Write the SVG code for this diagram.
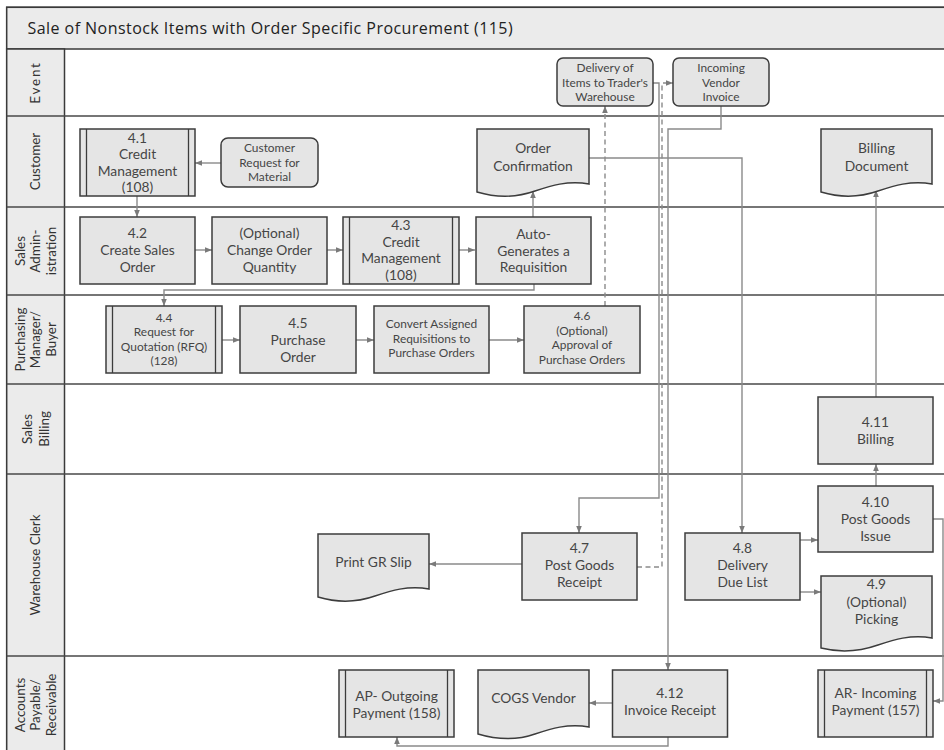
<svg xmlns="http://www.w3.org/2000/svg" width="944" height="750" viewBox="0 0 944 750">
  <style>
    .frame { fill: #ffffff; stroke: #3a3a3a; stroke-width: 1.5; }
    .band { fill: #ebebeb; stroke: #3a3a3a; stroke-width: 1.5; }
    .div { stroke: #4a4a4a; stroke-width: 1.5; fill: none; }
    .title { font-family: "Open Sans", "Noto Sans", sans-serif; font-size: 16px; letter-spacing: 0.45px; fill: #222; }
    .lane { font-family: Lato, "Open Sans", sans-serif; font-size: 13.4px; fill: #333; text-anchor: middle; }
    .box { fill: #e5e5e5; stroke: #3c3c3c; stroke-width: 1.5; }
    .bar { stroke: #3c3c3c; stroke-width: 1.3; fill: none; }
    .t { font-family: Lato, "Open Sans", sans-serif; font-size: 13.8px; fill: #454545; text-anchor: middle; }
    .s { font-family: Lato, "Open Sans", sans-serif; font-size: 11.9px; fill: #454545; text-anchor: middle; }
    .c { fill: none; stroke: #8a8a8a; stroke-width: 1.4; marker-end: url(#ah); }
    .d { fill: none; stroke: #8a8a8a; stroke-width: 1.4; stroke-dasharray: 5 3.5; marker-end: url(#ah); }
  </style>
  <defs>
    <marker id="ah" viewBox="0 0 10 10" refX="10" refY="5" markerWidth="7" markerHeight="7" markerUnits="userSpaceOnUse" orient="auto">
      <path d="M0,1 L10,5 L0,9 Z" fill="#7a7a7a"/>
    </marker>
  </defs>

  <rect width="944" height="750" fill="#ffffff"/>

  <!-- pool frame, title bar and lane header column -->
  <g id="pool">
    <rect class="frame" x="6.7" y="7.3" width="960" height="760"/>
    <rect class="band" x="6.7" y="7.3" width="960" height="41.7"/>
    <rect class="band" x="6.7" y="49" width="57.8" height="720"/>
    <text class="title" x="27.5" y="34">Sale of Nonstock Items with Order Specific Procurement (115)</text>
    <path class="div" d="M6.7,116 H944 M6.7,207 H944 M6.7,295 H944 M6.7,384 H944 M6.7,474 H944 M6.7,656 H944"/>
  </g>

  <!-- lane labels -->
  <g id="lanes">
    <text class="lane" transform="translate(35.6,82.5) rotate(-90)" y="4.7" letter-spacing="1.8" font-size="14.5">Event</text>
    <text class="lane" transform="translate(35.6,161.5) rotate(-90)" y="4.7" font-size="14.5">Customer</text>
    <text class="lane" transform="translate(35.6,251) rotate(-90)"><tspan x="0" y="-11">Sales</tspan><tspan x="0" y="4.7">Admin-</tspan><tspan x="0" y="20.4">istration</tspan></text>
    <text class="lane" transform="translate(35.6,339.5) rotate(-90)"><tspan x="0" y="-11">Purchasing</tspan><tspan x="0" y="4.7">Manager/</tspan><tspan x="0" y="20.4">Buyer</tspan></text>
    <text class="lane" transform="translate(35.6,429) rotate(-90)" font-size="14"><tspan x="0" y="-3.2">Sales</tspan><tspan x="0" y="13">Billing</tspan></text>
    <text class="lane" transform="translate(35.6,565) rotate(-90)" y="4.7" font-size="14.5">Warehouse Clerk</text>
    <text class="lane" transform="translate(35.6,705) rotate(-90)"><tspan x="0" y="-11">Accounts</tspan><tspan x="0" y="4.7">Payable/</tspan><tspan x="0" y="20.4">Receivable</tspan></text>
  </g>

  <!-- connectors -->
  <g id="connectors">
    <path class="c" d="M221,163 H195"/>
    <path class="c" d="M137,196 V217"/>
    <path class="c" d="M195,250 H212"/>
    <path class="c" d="M327,250 H343"/>
    <path class="c" d="M459,250 H475"/>
    <path class="c" d="M533,217 V191"/>
    <path class="c" d="M534,284 V290 H164 V306"/>
    <path class="c" d="M222,340 H240"/>
    <path class="c" d="M356,340 H374"/>
    <path class="c" d="M489,340 H524"/>
    <path class="d" d="M605,306 V106"/>
    <path class="c" d="M653,83 H659 V498 H579 V533"/>
    <path class="d" d="M637,567 H662 V83 H673"/>
    <path class="c" d="M721,106 V129 H668 V670"/>
    <path class="c" d="M589,158 H742 V533"/>
    <path class="c" d="M800,540 H818"/>
    <path class="c" d="M800,592 H821"/>
    <path class="c" d="M876,486 V464"/>
    <path class="c" d="M876,397 V190"/>
    <path class="c" d="M933,519 H943 V701 H933"/>
    <path class="c" d="M522,564 H429"/>
    <path class="c" d="M612.5,703 H589"/>
    <path class="c" d="M668,737 V746 H397 V737"/>
  </g>

  <!-- Event lane -->
  <g id="ev-delivery">
    <rect class="box" x="557" y="58" width="96" height="48" rx="6"/>
    <text class="s"><tspan x="605" y="72.3">Delivery of</tspan><tspan x="605" y="86.7">Items to Trader's</tspan><tspan x="605" y="101">Warehouse</tspan></text>
  </g>
  <g id="ev-invoice">
    <rect class="box" x="673" y="58" width="96" height="48" rx="6"/>
    <text class="s"><tspan x="721" y="72.3">Incoming</tspan><tspan x="721" y="86.7">Vendor</tspan><tspan x="721" y="101">Invoice</tspan></text>
  </g>

  <!-- Customer lane -->
  <g id="n4-1">
    <rect class="box" x="80" y="129" width="115" height="67"/>
    <path class="bar" d="M86.5,129 V196 M188.5,129 V196"/>
    <text class="t"><tspan x="137.5" y="142.5">4.1</tspan><tspan x="137.5" y="159">Credit</tspan><tspan x="137.5" y="175.5">Management</tspan><tspan x="137.5" y="192">(108)</tspan></text>
  </g>
  <g id="customer-request">
    <rect class="box" x="221" y="138" width="97" height="49" rx="7"/>
    <text class="s"><tspan x="269.5" y="152.3">Customer</tspan><tspan x="269.5" y="166.7">Request for</tspan><tspan x="269.5" y="181.1">Material</tspan></text>
  </g>
  <g id="order-confirmation">
    <path class="box" d="M477,129 H589 V184 C568,180 550,186 535,191 C518,197 497,198 477,192 Z"/>
    <text class="t"><tspan x="533" y="153.3">Order</tspan><tspan x="533" y="170.7">Confirmation</tspan></text>
  </g>
  <g id="billing-document">
    <path class="box" d="M821,129 H932 V184 C911,180 893,186 878,191 C861,197 841,198 821,192 Z"/>
    <text class="t"><tspan x="876.5" y="153.3">Billing</tspan><tspan x="876.5" y="170.7">Document</tspan></text>
  </g>

  <!-- Sales Administration lane -->
  <g id="n4-2">
    <rect class="box" x="80" y="217" width="115" height="67"/>
    <text class="t"><tspan x="137.5" y="238.3">4.2</tspan><tspan x="137.5" y="255">Create Sales</tspan><tspan x="137.5" y="271.7">Order</tspan></text>
  </g>
  <g id="change-qty">
    <rect class="box" x="212" y="217" width="115" height="67"/>
    <text class="t"><tspan x="269.5" y="238.3">(Optional)</tspan><tspan x="269.5" y="255">Change Order</tspan><tspan x="269.5" y="271.7">Quantity</tspan></text>
  </g>
  <g id="n4-3">
    <rect class="box" x="343" y="217" width="116" height="67"/>
    <path class="bar" d="M349.5,217 V284 M452.5,217 V284"/>
    <text class="t"><tspan x="401" y="230">4.3</tspan><tspan x="401" y="246.7">Credit</tspan><tspan x="401" y="263.4">Management</tspan><tspan x="401" y="280.1">(108)</tspan></text>
  </g>
  <g id="auto-requisition">
    <rect class="box" x="476" y="217" width="115" height="67"/>
    <text class="t"><tspan x="533.5" y="239">Auto-</tspan><tspan x="533.5" y="255.7">Generates a</tspan><tspan x="533.5" y="272.4">Requisition</tspan></text>
  </g>

  <!-- Purchasing lane -->
  <g id="n4-4">
    <rect class="box" x="106" y="306" width="116" height="67"/>
    <path class="bar" d="M112.5,306 V373 M215.5,306 V373"/>
    <text class="s"><tspan x="164" y="321.5">4.4</tspan><tspan x="164" y="336">Request for</tspan><tspan x="164" y="350.5">Quotation (RFQ)</tspan><tspan x="164" y="365">(128)</tspan></text>
  </g>
  <g id="n4-5">
    <rect class="box" x="240" y="306" width="116" height="67"/>
    <text class="t"><tspan x="298" y="328">4.5</tspan><tspan x="298" y="344.8">Purchase</tspan><tspan x="298" y="361.6">Order</tspan></text>
  </g>
  <g id="convert">
    <rect class="box" x="374" y="306" width="115" height="67"/>
    <text class="s"><tspan x="431.5" y="328.3">Convert Assigned</tspan><tspan x="431.5" y="342.8">Requisitions to</tspan><tspan x="431.5" y="357.3">Purchase Orders</tspan></text>
  </g>
  <g id="n4-6">
    <rect class="box" x="524" y="306" width="116" height="67"/>
    <text class="s"><tspan x="582" y="320">4.6</tspan><tspan x="582" y="334.5">(Optional)</tspan><tspan x="582" y="349">Approval of</tspan><tspan x="582" y="363.5">Purchase Orders</tspan></text>
  </g>

  <!-- Sales Billing lane -->
  <g id="n4-11">
    <rect class="box" x="818" y="397" width="115" height="67"/>
    <text class="t"><tspan x="875.5" y="426.7">4.11</tspan><tspan x="875.5" y="443.5">Billing</tspan></text>
  </g>

  <!-- Warehouse Clerk lane -->
  <g id="n4-10">
    <rect class="box" x="818" y="486" width="115" height="66"/>
    <text class="t"><tspan x="875.5" y="506.7">4.10</tspan><tspan x="875.5" y="523.5">Post Goods</tspan><tspan x="875.5" y="540.5">Issue</tspan></text>
  </g>
  <g id="print-gr">
    <path class="box" d="M318,534 H429 V589 C408,585 390,591 375,596 C358,602 338,603 318,597 Z"/>
    <text class="t" x="373.5" y="566.7">Print GR Slip</text>
  </g>
  <g id="n4-7">
    <rect class="box" x="522" y="533" width="115" height="67"/>
    <text class="t"><tspan x="579.5" y="553.3">4.7</tspan><tspan x="579.5" y="570.2">Post Goods</tspan><tspan x="579.5" y="587.3">Receipt</tspan></text>
  </g>
  <g id="n4-8">
    <rect class="box" x="685" y="533" width="115" height="67"/>
    <text class="t"><tspan x="742.5" y="553.3">4.8</tspan><tspan x="742.5" y="570.2">Delivery</tspan><tspan x="742.5" y="587.3">Due List</tspan></text>
  </g>
  <g id="n4-9">
    <path class="box" d="M821,576 H932 V638 C911,634 893,640 878,645 C861,651 841,653 821,648 Z"/>
    <text class="t"><tspan x="876.5" y="589">4.9</tspan><tspan x="876.5" y="606.5">(Optional)</tspan><tspan x="876.5" y="624">Picking</tspan></text>
  </g>

  <!-- Accounts Payable / Receivable lane -->
  <g id="ap-outgoing">
    <rect class="box" x="339" y="670" width="115" height="67"/>
    <path class="bar" d="M345.5,670 V737 M447.5,670 V737"/>
    <text class="t"><tspan x="396.5" y="701">AP- Outgoing</tspan><tspan x="396.5" y="718">Payment (158)</tspan></text>
  </g>
  <g id="cogs-vendor">
    <path class="box" d="M478,670 H589 V727 C568,723 550,729 535,734 C518,740 498,740 478,734 Z"/>
    <text class="t" x="533.5" y="703.3">COGS Vendor</text>
  </g>
  <g id="n4-12">
    <rect class="box" x="612.5" y="670" width="115" height="67"/>
    <text class="t"><tspan x="670" y="698.3">4.12</tspan><tspan x="670" y="715.2">Invoice Receipt</tspan></text>
  </g>
  <g id="ar-incoming">
    <rect class="box" x="818" y="670" width="115" height="67"/>
    <path class="bar" d="M824.5,670 V737 M926.5,670 V737"/>
    <text class="t"><tspan x="875.5" y="698.3">AR- Incoming</tspan><tspan x="875.5" y="715.2">Payment (157)</tspan></text>
  </g>
</svg>
